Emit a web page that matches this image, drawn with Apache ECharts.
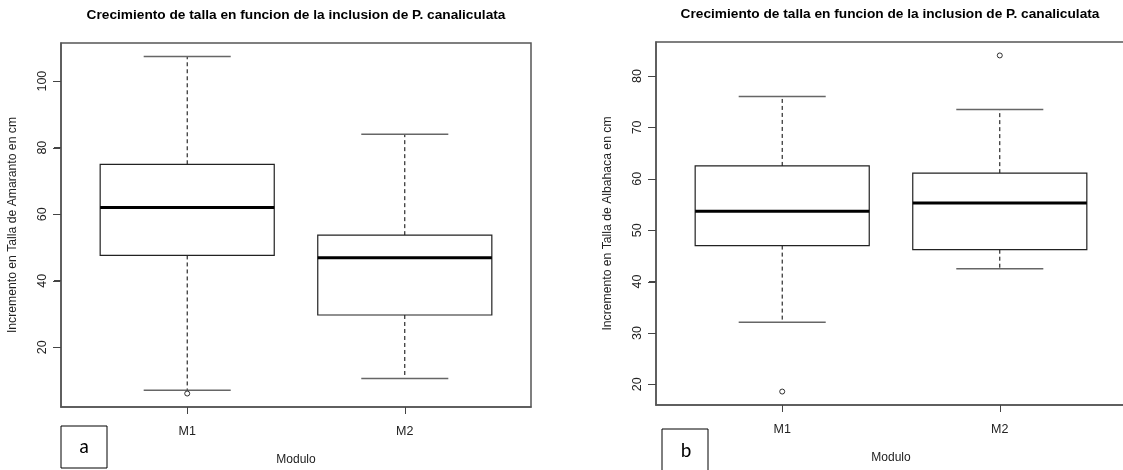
<!DOCTYPE html>
<html>
<head>
<meta charset="utf-8">
<title>Crecimiento de talla</title>
<script src="https://cdn.jsdelivr.net/npm/echarts@6/dist/echarts.min.js"></script>
<style>
  html, body { margin: 0; padding: 0; background: #fff; }
  #chart { width: 1123px; height: 470px; }
</style>
</head>
<body>
<div id="chart"></div>
<script>
// datos
const categories = ['M1', 'M2'];
const xPos = [1, 2];

// a) Amaranto
const amarMin = [7.1, 10.6];
const amarQ1 = [47.6, 29.7];
const amarMed = [62.0, 46.9];
const amarQ3 = [75.0, 53.7];
const amarMax = [107.4, 84.0];
const amarOut = [[1, 6.1]];

// b) Albahaca
const albaMin = [32.1, 42.5];
const albaQ1 = [47.0, 46.2];
const albaMed = [53.7, 55.3];
const albaQ3 = [62.5, 61.1];
const albaMax = [76.0, 73.5];
const albaOut = [[1, 18.6], [2, 84.0]];

const amarTicks = [20, 40, 60, 80, 100];
const albaTicks = [20, 30, 40, 50, 60, 70, 80];

const titulo = 'Crecimiento de talla en funcion de la inclusion de P. canaliculata';
const font = 'Liberation Sans, Arial, sans-serif';
const xMin = 0.42, xMax = 2.58;

// como boxplot() de R: rango de datos + 4%
function yRange(mins, maxs, outs) {
    var lo = Math.min.apply(null, mins.concat(outs.map(o => o[1])));
    var hi = Math.max.apply(null, maxs.concat(outs.map(o => o[1])));
    var pad = (hi - lo) * 0.04;
    return [lo - pad, hi + pad];
}

function boxData(mn, q1, md, q3, mx) {
    return xPos.map((x, i) => [x, mn[i], q1[i], md[i], q3[i], mx[i]]);
}

const boxWidth = 0.8;

function renderBox(params, api) {
    var x = api.value(0);
    var lo = api.coord([x, api.value(1)]);
    var q1 = api.coord([x, api.value(2)]);
    var md = api.coord([x, api.value(3)]);
    var q3 = api.coord([x, api.value(4)]);
    var hi = api.coord([x, api.value(5)]);
    var half = api.size([boxWidth, 0])[0] / 2;
    var cap = half / 2;
    var cx = q1[0];
    var dashed = { stroke: '#000', lineWidth: 1, lineDash: [4, 3] };
    var capStyle = { stroke: '#666', lineWidth: 1.5 };
    return {
        type: 'group',
        children: [
            { type: 'line', shape: { x1: cx, y1: q3[1], x2: cx, y2: hi[1] }, style: dashed },
            { type: 'line', shape: { x1: cx, y1: q1[1], x2: cx, y2: lo[1] }, style: dashed },
            { type: 'line', shape: { x1: cx - cap, y1: hi[1], x2: cx + cap, y2: hi[1] }, style: capStyle },
            { type: 'line', shape: { x1: cx - cap, y1: lo[1], x2: cx + cap, y2: lo[1] }, style: capStyle },
            { type: 'rect', shape: { x: cx - half, y: q3[1], width: half * 2, height: q1[1] - q3[1] },
              style: { fill: '#fff', stroke: '#222', lineWidth: 1.2 } },
            { type: 'line', shape: { x1: cx - half, y1: md[1], x2: cx + half, y2: md[1] },
              style: { stroke: '#000', lineWidth: 3 } }
        ]
    };
}

// marcas de los ejes (posicion sacada de las escalas)
function renderTick(params, api) {
    var p = api.coord([api.value(0), api.value(1)]);
    var vertical = api.value(2) === 1;
    var x = Math.round(p[0]) + 0.5, y = Math.round(p[1]) + 0.5;
    return {
        type: 'line',
        z2: 100,
        shape: vertical ? { x1: x, y1: p[1], x2: x, y2: p[1] + 7 } : { x1: p[0] - 8, y1: y, x2: p[0] - 0.5, y2: y },
        style: { stroke: '#444', lineWidth: 1 }
    };
}

function tickData(yTicks, range) {
    return yTicks.map(v => [xMin, v, 0]).concat(xPos.map(v => [v, range[0], 1]));
}

function xAxisCfg(grid) {
    return {
        type: 'value', gridIndex: grid, min: xMin, max: xMax,
        name: 'Modulo', nameLocation: 'middle', nameGap: 47,
        nameTextStyle: { fontSize: 12, color: '#222', fontFamily: font },
        axisLine: { show: true, lineStyle: { color: '#555', width: 1.5 } },
        splitLine: { show: false },
        axisTick: { show: true, length: 7, customValues: xPos, lineStyle: { color: '#444', width: 1 } },
        axisLabel: {
            customValues: xPos, margin: 18, fontSize: 12.5, color: '#222', fontFamily: font,
            formatter: v => categories[Math.round(v) - 1]
        }
    };
}

function yAxisCfg(grid, name, range, ticks) {
    return {
        type: 'value', gridIndex: grid, min: range[0], max: range[1],
        name: name, nameLocation: 'middle', nameGap: 42,
        nameTextStyle: { fontSize: 12.2, color: '#222', fontFamily: font },
        axisLine: { show: true, lineStyle: { color: '#555', width: 1.5 } },
        splitLine: { show: false },
        axisTick: { show: true, length: 7, customValues: ticks, lineStyle: { color: '#444', width: 1 } },
        axisLabel: { customValues: ticks, rotate: 90, margin: 12, fontSize: 12.5, color: '#222', fontFamily: font }
    };
}

var amarRange = yRange(amarMin, amarMax, amarOut);
var albaRange = yRange(albaMin, albaMax, albaOut);

var outStyle = { color: '#fff', borderColor: '#000', borderWidth: 1 };

var option = {
    animation: false,
    backgroundColor: '#fff',
    title: [
        { text: titulo, left: 296, top: 8, padding: 0, textAlign: 'center',
          textStyle: { fontSize: 13.7, fontWeight: 'bold', color: '#000', fontFamily: font } },
        { text: titulo, left: 890, top: 7, padding: 0, textAlign: 'center',
          textStyle: { fontSize: 13.7, fontWeight: 'bold', color: '#000', fontFamily: font } }
    ],
    grid: [
        { left: 61, top: 43, width: 470, height: 364, show: true, borderColor: '#555', borderWidth: 1.5,
          outerBoundsMode: 'none', containLabel: false },
        { left: 656, top: 42, width: 470, height: 363, show: true, borderColor: '#555', borderWidth: 1.5,
          outerBoundsMode: 'none', containLabel: false }
    ],
    xAxis: [xAxisCfg(0), xAxisCfg(1)],
    yAxis: [
        yAxisCfg(0, 'Incremento en Talla de Amaranto en cm', amarRange, amarTicks),
        yAxisCfg(1, 'Incremento en Talla de Albahaca en cm', albaRange, albaTicks)
    ],
    series: [
        { type: 'custom', xAxisIndex: 0, yAxisIndex: 0, renderItem: renderBox, clip: false,
          data: boxData(amarMin, amarQ1, amarMed, amarQ3, amarMax) },
        { type: 'scatter', xAxisIndex: 0, yAxisIndex: 0, data: amarOut, symbol: 'circle', symbolSize: 5,
          itemStyle: outStyle, z: 5 },
        { type: 'custom', xAxisIndex: 0, yAxisIndex: 0, renderItem: renderTick, clip: false, silent: true,
          z: 100, data: tickData(amarTicks, amarRange) },
        { type: 'custom', xAxisIndex: 1, yAxisIndex: 1, renderItem: renderBox, clip: false,
          data: boxData(albaMin, albaQ1, albaMed, albaQ3, albaMax) },
        { type: 'scatter', xAxisIndex: 1, yAxisIndex: 1, data: albaOut, symbol: 'circle', symbolSize: 5,
          itemStyle: outStyle, z: 5 },
        { type: 'custom', xAxisIndex: 1, yAxisIndex: 1, renderItem: renderTick, clip: false, silent: true,
          z: 100, data: tickData(albaTicks, albaRange) }
    ],
    graphic: [
        { type: 'rect', shape: { x: 61, y: 426, width: 46, height: 42 }, style: { fill: '#fff', stroke: '#000', lineWidth: 1 } },
        { type: 'text', x: 84, y: 448, style: { text: 'a', fontSize: 20, fontFamily: 'Carlito, ' + font, fill: '#000', align: 'center', verticalAlign: 'middle' } },
        { type: 'rect', shape: { x: 662, y: 429, width: 46, height: 50 }, style: { fill: '#fff', stroke: '#000', lineWidth: 1 } },
        { type: 'text', x: 686, y: 452, style: { text: 'b', fontSize: 20, fontFamily: 'Carlito, ' + font, fill: '#000', align: 'center', verticalAlign: 'middle' } }
    ]
};

var myChart = echarts.init(document.getElementById('chart'));
myChart.setOption(option);
</script>
</body>
</html>
